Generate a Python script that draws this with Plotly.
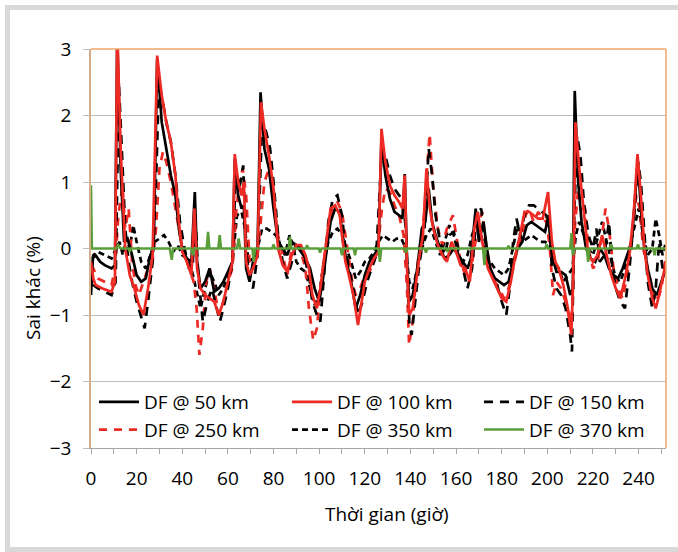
import plotly.graph_objects as go

# ---- data: (hour, difference %) ----
df50 = [(0,-0.7),(0.8,-0.15),(2,-0.1),(4,-0.2),(6,-0.25),(9,-0.3),(10.5,-0.25),(11.5,3.2),(13,1.2),(14.5,0.1),
        (16,0.15),(18,-0.1),(20,-0.4),(22,-0.5),(24,-0.45),(26,-0.1),(27.5,0.0),(29,2.85),(31,1.9),(33,1.5),
        (35,1.1),(37,0.8),(38.5,0.3),(40,0.0),(42,-0.15),(44,-0.2),(45.5,0.85),(46.5,-0.2),(48,-0.6),(50,-0.5),
        (52,-0.3),(54,-0.65),(56,-0.6),(58,-0.5),(60,-0.35),(62,-0.2),(63,1.35),(64.5,0.8),(66,0.6),(67,0.65),
        (68,-0.3),(69.5,-0.5),(71,-0.2),(73,0.0),(74.3,2.35),(76,1.5),(78,1.2),(80,0.6),(82,0.1),(84,0.0),
        (86,-0.1),(88,0.1),(90,0.05),(92,-0.05),(94,-0.15),(96,-0.3),(98,-0.6),(100,-0.8),(101.5,-0.5),(103,-0.1),
        (105,0.4),(107,0.6),(109,0.55),(110.5,0.1),(112,-0.2),(114,-0.5),(116,-0.9),(118,-0.7),(120,-0.4),(122,-0.2),
        (124,-0.1),(126,0.0),(127.3,1.65),(129,1.1),(131,0.75),(133,0.55),(135,0.5),(136.5,0.45),(137.5,1.12),(138.5,-0.2),
        (139.5,-0.8),(141,-0.7),(143,-0.3),(145,0.3),(146.5,0.4),(148,0.9),(149.5,0.4),(151,0.2),(153,0.0),(155,-0.15),
        (157,-0.1),(159,0.0),(161,-0.1),(163,-0.2),(165,-0.3),(166.5,-0.15),(168.6,0.6),(170,0.1),(172,0.4),(173.5,0.0),
        (175,-0.3),(177,-0.45),(179,-0.5),(181,-0.55),(183,-0.5),(185,-0.2),(187,0.0),(189,0.1),(191,0.35),(193,0.4),
        (195,0.35),(197,0.3),(199,0.25),(200.5,0.5),(202,-0.1),(204,-0.35),(206,-0.35),(208,-0.4),(210,-0.7),(211.2,-0.6),
        (212,2.37),(213.5,1.0),(215,0.4),(217,0.0),(219,-0.15),(221,-0.2),(223,0.0),(225,-0.1),(227,-0.3),(229,-0.4),
        (231,-0.45),(233,-0.3),(235,-0.1),(237,0.1),(238.5,0.8),(239.7,1.3),(241,0.6),(242.5,0.0),(244,-0.3),(246,-0.6),
        (248,-0.7),(250,-0.5),(252,-0.3)]

df100 = [(0,-0.2),(1,-0.45),(2,-0.55),(5,-0.6),(9,-0.65),(10.5,-0.5),(11.5,3.3),(13,1.5),(15,0.0),(17,-0.4),
         (19,-0.6),(21,-0.85),(23,-1.0),(25,-0.6),(27,-0.1),(28,1.2),(29,2.9),(31,2.3),(33,1.9),(35,1.6),
         (37,1.1),(38.5,0.4),(40,-0.05),(42,-0.2),(44,-0.4),(45.3,0.6),(46.5,-0.3),(48,-0.6),(50,-0.7),(52,-0.75),
         (54,-0.8),(56,-1.0),(58,-0.8),(60,-0.5),(62,-0.2),(63,1.42),(64.5,1.0),(66,0.8),(67,1.0),(68,-0.2),
         (69.5,-0.4),(71,-0.3),(73,-0.1),(74.5,2.2),(76,1.8),(78,1.4),(80,0.9),(82,0.0),(84,-0.25),(86,-0.35),
         (88,-0.1),(90,0.05),(92,0.05),(94,-0.1),(95.5,-0.3),(97,-0.7),(99,-0.9),(100.5,-0.6),(102,-0.2),(103.5,0.2),
         (105,0.6),(107,0.65),(109,0.5),(110,0.2),(111.5,-0.2),(113,-0.4),(115,-0.7),(117,-1.15),(118.5,-0.8),(120,-0.5),
         (122,-0.3),(124,-0.15),(126,-0.05),(127.3,1.8),(129,1.3),(131,0.95),(133,0.8),(135,0.7),(136.5,0.6),(137.5,1.1),
         (138.5,-0.3),(139.5,-1.0),(141,-0.9),(142.5,-0.5),(144,-0.1),(145.5,0.2),(147,1.2),(148.5,0.6),(150,0.3),(152,0.05),
         (154,-0.1),(156,-0.2),(158,0.1),(160,-0.05),(162,-0.25),(164,-0.3),(166,-0.5),(168,0.3),(169.5,0.55),(171,0.2),
         (172.5,-0.1),(174,-0.3),(176,-0.45),(178,-0.6),(180,-0.75),(182,-0.8),(184,-0.5),(186,-0.1),(188,0.2),(190,0.55),
         (192,0.55),(194,0.5),(196,0.45),(198,0.45),(200.3,0.85),(202,0.1),(203.5,-0.2),(205,-0.3),(207,-0.55),(209,-0.9),
         (210.5,-1.3),(211.3,-0.5),(212.3,1.9),(214,1.2),(216,0.5),(218,-0.1),(220,-0.2),(222,-0.1),(224,0.2),(226,-0.1),
         (228,-0.4),(230,-0.6),(232,-0.75),(234,-0.45),(236,-0.1),(238,0.6),(239.5,1.42),(241,0.8),(242.5,0.0),(244,-0.4),
         (246,-0.75),(247.5,-0.9),(249,-0.7),(250.5,-0.45),(252,-0.2)]

df150 = [(0,-0.3),(1,-0.55),(3,-0.6),(6,-0.65),(9,-0.7),(10.8,-0.5),(12.2,2.5),(13.5,1.5),(15,0.3),(16.5,-0.2),
         (18,-0.5),(20,-0.8),(22,-1.05),(23.5,-1.2),(25,-0.8),(27,-0.2),(28.5,1.0),(29.8,2.5),(31.5,2.2),(33,1.9),
         (35,1.6),(37,1.1),(39,0.4),(41,0.0),(43,-0.3),(44.5,-0.3),(45.7,0.5),(47,-0.4),(49,-1.1),(51,-0.8),
         (53,-0.6),(55,-0.9),(56.5,-1.1),(58,-0.9),(60,-0.6),(62,-0.2),(63.5,1.2),(65,0.9),(66.7,1.25),(68,0.0),
         (69.5,-0.5),(71,-0.6),(73,-0.1),(75,1.9),(76.8,1.75),(78.5,1.5),(80,1.0),(82,0.2),(84,-0.2),(86,-0.45),
         (88,-0.2),(90,0.1),(92,0.0),(94,-0.2),(95.5,-0.4),(97,-0.8),(99,-1.0),(100.5,-1.1),(102,-0.4),(104,0.4),
         (106,0.75),(108,0.8),(110,0.5),(111.5,0.0),(113,-0.3),(115,-0.6),(117,-1.0),(119,-0.8),(121,-0.5),(123,-0.3),
         (125,-0.1),(127.5,1.5),(129,1.4),(131,1.1),(133,0.9),(135,0.8),(136.5,0.75),(138,0.3),(139.5,-1.1),(140.5,-1.3),
         (142,-0.8),(144,-0.2),(146,0.2),(148,1.5),(149.5,1.1),(151,0.5),(153,0.1),(155,-0.1),(157,0.2),(159,0.25),
         (161,0.0),(163,-0.3),(165,-0.6),(167,-0.3),(169,0.5),(171,0.6),(172.5,0.2),(174,-0.2),(176,-0.4),(178,-0.55),
         (180,-0.8),(182,-1.0),(183.5,-0.6),(185,0.1),(186.5,0.45),(188,0.2),(190,0.5),(192,0.65),(194,0.65),(196,0.6),
         (198,0.55),(199.5,0.5),(201,0.3),(202,-0.3),(204,-0.6),(206,-0.7),(208,-0.9),(210,-1.3),(210.8,-1.55),(211.8,0.5),
         (213,1.7),(214.5,1.4),(216,0.7),(218,0.2),(220,0.0),(221.5,0.3),(223,-0.2),(225,-0.1),(227,0.4),(228.5,-0.3),
         (230,-0.6),(232,-0.8),(234,-0.9),(236,-0.3),(238,0.5),(239.8,1.3),(241,1.0),(242.5,0.2),(244,-0.5),(246,-0.9),
         (247.5,-0.6),(249,0.1),(250.5,-0.3),(252,-0.2)]

df250 = [(0,-0.25),(1,-0.3),(3,-0.45),(6,-0.5),(9,-0.55),(10.5,-0.3),(12,0.5),(13.8,0.95),(15,0.3),(16.5,0.6),
         (18,-0.2),(19.5,-0.55),(21,-0.7),(23,-0.5),(25,-0.3),(27,-0.2),(28.5,0.3),(30,1.2),(31.5,1.45),(33,1.3),
         (35,1.0),(37,0.6),(39,0.2),(41,-0.1),(43,-0.3),(45,-0.5),(46.3,-0.9),(47.5,-1.6),(49,-1.2),(50.5,-0.5),
         (52,-0.3),(54,-0.6),(56,-1.0),(58,-0.8),(60,-0.5),(62,-0.3),(63.5,0.5),(65,1.0),(66.5,1.2),(68,0.8),
         (69.5,-0.2),(71,-0.3),(73,-0.1),(74.8,0.5),(76,1.0),(78,1.2),(80,0.7),(82,0.2),(84,-0.1),(86,-0.4),
         (88,0.0),(90,0.05),(92,-0.05),(94,-0.3),(95.5,-0.9),(97.4,-1.38),(99,-1.2),(100.5,-0.6),(102,-0.2),(104,0.3),
         (106,0.6),(108,0.7),(110,0.55),(111.5,0.2),(113,-0.1),(114.5,-0.5),(116,-0.7),(118,-0.6),(120,-0.4),(122,-0.35),
         (124,-0.2),(126,0.1),(127.5,0.6),(129,0.9),(131,0.85),(133,0.65),(135,0.5),(137,0.2),(138.5,-0.6),(139.4,-1.45),
         (141,-1.1),(142.5,-0.4),(144,0.0),(146,0.5),(147.5,1.3),(148.4,1.72),(150,0.9),(152,0.3),(154,0.05),(156,0.3),
         (158.6,0.5),(160,0.2),(162,-0.2),(164,-0.4),(166,-0.45),(168,0.0),(170,0.4),(171.5,0.55),(173,0.1),(175,-0.3),
         (177,-0.5),(179,-0.6),(181,-0.75),(183,-0.6),(185,-0.3),(187,0.0),(189,0.2),(190.5,0.5),(192,0.6),(194,0.4),
         (196,0.55),(198,0.45),(199.5,0.4),(201,0.05),(202.5,-0.7),(204,-0.5),(206,-0.6),(208,-0.8),(210,-1.1),(211,-0.9),
         (212,0.3),(213.5,0.9),(215,0.6),(216.5,0.6),(218,0.0),(220,-0.3),(222,-0.2),(224,0.2),(225.5,0.6),(227,0.3),
         (229,-0.3),(231,-0.6),(233,-0.75),(235,-0.4),(237,0.2),(239,0.8),(240.5,0.6),(242,0.0),(244,-0.3),(246,-0.6),
         (248,-0.8),(250,-0.6),(252,-0.1)]

df350 = [(0,-0.3),(1,-0.1),(3,-0.05),(6,-0.1),(9,-0.15),(11,0.0),(12.5,0.1),(14,-0.1),(15.5,0.15),(17,0.0),
         (18.5,0.35),(20,0.1),(22,-0.2),(24,-0.3),(26,-0.1),(28,0.1),(30,0.15),(32,0.2),(34,0.1),(36,-0.05),
         (38,0.05),(40,-0.1),(42,-0.15),(44,-0.3),(46,-0.6),(48,-0.9),(50,-0.6),(52,-0.35),(54,-0.5),(56,-0.7),
         (58,-0.6),(60,-0.4),(62,-0.2),(64,0.5),(66,0.55),(67.5,0.3),(69,-0.2),(71,-0.15),(73,0.0),(75,0.3),
         (77,0.3),(79,0.25),(81,0.2),(83,0.05),(85,-0.1),(87,0.2),(88.5,0.05),(90,-0.2),(92,-0.3),(94,-0.35),
         (96,-0.6),(98,-0.85),(100,-0.7),(102,-0.2),(104,0.1),(106,0.25),(108,0.3),(110,0.2),(112,0.0),(114,-0.2),
         (116,-0.45),(118,-0.35),(120,-0.2),(122,-0.15),(124,-0.05),(126,0.1),(128,0.2),(130,0.15),(132,0.1),(134,0.15),
         (136,0.15),(138,0.0),(139.5,-0.5),(141,-0.6),(143,-0.3),(145,0.0),(147,0.2),(149,0.3),(151,0.1),(153,-0.1),
         (155,0.1),(157,0.35),(159,0.2),(161,-0.1),(163,-0.2),(165,-0.1),(167,0.2),(169,0.4),(171,0.2),(173,-0.1),
         (175,-0.2),(177,-0.3),(179,-0.35),(181,-0.4),(183,-0.3),(185,0.0),(187,0.35),(189,0.1),(191,0.15),(193,0.2),
         (195,0.15),(197,0.1),(199,0.1),(201,0.05),(203,-0.2),(205,-0.3),(207,-0.5),(209,-0.4),(211,-0.3),(212.5,0.2),
         (214,0.4),(216,0.2),(218,0.0),(220,-0.1),(222,0.15),(224,0.4),(226,0.1),(228,-0.2),(230,-0.45),(232,-0.5),
         (234,-0.3),(236,0.0),(238,0.3),(240,0.6),(242,0.2),(244,-0.1),(246,0.0),(247.5,0.45),(249,0.2),(250.5,-0.1),
         (252,0.1)]

df370 = [(0,0.95),(0.4,0.0),(11,0.0),(12,0.05),(13,0.0),(16.5,0.0),(17,-0.05),(17.5,0.0),(34.5,0.0),(35.4,-0.17),
         (36,0.0),(44,0.0),(44.7,-0.1),(45.4,0.0),(50.7,0.0),(51.3,0.25),(51.9,0.0),(55.8,0.0),(56.4,0.2),(57,0.0),
         (64,0.0),(64.7,0.15),(65.4,0.0),(70.7,0.0),(71.3,-0.2),(71.9,0.0),(79.4,0.0),(80,0.06),(80.6,0.0),(86.6,0.0),
         (87.2,0.18),(87.8,0.0),(94.1,0.0),(94.7,0.05),(95.3,0.0),(99.8,0.0),(100.4,-0.06),(101,0.0),(109.4,0.0),(110,-0.1),
         (110.6,0.0),(115.1,0.0),(115.7,-0.1),(116.3,0.0),(126,0.0),(126.6,-0.2),(127.2,0.0),(137.4,0.0),(138,-0.06),(138.6,0.0),
         (146.2,0.0),(146.8,-0.06),(147.4,0.0),(155.7,0.0),(156.3,-0.05),(156.9,0.0),(171.8,0.0),(172.4,-0.25),(173,0.0),(182.4,0.0),
         (183,0.04),(183.6,0.0),(199.1,0.0),(199.7,0.06),(200.3,0.0),(210,0.0),(210.6,0.23),(211.2,-0.1),(211.8,0.0),(217.3,0.0),
         (217.9,-0.2),(218.5,0.0),(227.4,0.0),(228,0.06),(228.6,0.0),(239.1,0.0),(239.7,0.06),(240.3,0.0),(246.4,0.0),(247,-0.1),
         (247.6,0.0),(252,0.0)]

names = ["DF @ 50 km", "DF @ 100 km", "DF @ 150 km", "DF @ 250 km", "DF @ 350 km", "DF @ 370 km"]
x_ticks = [0, 20, 40, 60, 80, 100, 120, 140, 160, 180, 200, 220, 240]
y_ticks = [-3, -2, -1, 0, 1, 2, 3]

FONT = "Open Sans"
styles = {
    "DF @ 50 km":  dict(color="#000000", dash="solid", width=2.7, legend="legend", rank=1),
    "DF @ 100 km": dict(color="#EE2A24", dash="solid", width=2.7, legend="legend2", rank=1),
    "DF @ 150 km": dict(color="#000000", dash="9px,7px", width=2.7, legend="legend3", rank=1),
    "DF @ 250 km": dict(color="#EE2A24", dash="8px,7px", width=2.7, legend="legend", rank=2),
    "DF @ 350 km": dict(color="#000000", dash="6px,4px", width=2.7, legend="legend2", rank=2),
    "DF @ 370 km": dict(color="#5A9E3A", dash="solid", width=2.5, legend="legend3", rank=2),
}
series = {
    "DF @ 50 km": df50, "DF @ 100 km": df100, "DF @ 150 km": df150,
    "DF @ 250 km": df250, "DF @ 350 km": df350, "DF @ 370 km": df370,
}
draw_order = ["DF @ 350 km", "DF @ 250 km", "DF @ 150 km", "DF @ 50 km", "DF @ 100 km", "DF @ 370 km"]

fig = go.Figure()
for nm in draw_order:
    st = styles[nm]
    pts = series[nm]
    fig.add_trace(go.Scatter(
        x=[p[0] for p in pts], y=[p[1] for p in pts], mode="lines", name=nm,
        line=dict(color=st["color"], dash=st["dash"], width=st["width"]),
        legend=st["legend"], legendrank=st["rank"],
    ))

# plot area in pixels: x 91..666, y 49..448
L, R, T, B = 91, 666, 49, 448
W, H = 678, 552
pw, ph = R - L, B - T
def px(xp): return (xp - L) / pw
def py(yp): return (B - yp) / ph

leg_common = dict(orientation="v", xanchor="left", yanchor="top", bgcolor="rgba(0,0,0,0)",
                  font=dict(family=FONT, size=19, color="#000000"), tracegroupgap=0,
                  itemwidth=40, traceorder="normal")
frame = dict(color="#D9D9D9", width=5)
fig.update_layout(
    width=W, height=H,
    margin=dict(l=L, r=W - R, t=T, b=H - B),
    paper_bgcolor="white", plot_bgcolor="white",
    font=dict(family=FONT, size=19, color="#000000"),
    showlegend=True,
    legend=dict(x=px(94), y=py(383), **leg_common),
    legend2=dict(x=px(287), y=py(383), **leg_common),
    legend3=dict(x=px(479), y=py(383), **leg_common),
    xaxis=dict(range=[0, 252], tickvals=x_ticks, showgrid=False, zeroline=False,
               showline=True, linecolor="#A6A6A6", linewidth=1,
               ticks="outside", ticklen=5, tickcolor="#A6A6A6",
               minor=dict(dtick=10, tick0=0, ticks="outside", ticklen=5, tickcolor="#A6A6A6", showgrid=False),
               tickfont=dict(family=FONT, size=19), ticklabelstandoff=8),
    yaxis=dict(range=[-3, 3], tickvals=y_ticks, showgrid=True, gridcolor="#BEBEBE", gridwidth=1,
               zeroline=False, showline=True, linecolor="#D2B08E", linewidth=1.5,
               ticks="outside", ticklen=6, tickcolor="#BEBEBE",
               tickfont=dict(family=FONT, size=19), ticklabelstandoff=8),
    annotations=[
        dict(text="Thời gian (giờ)", xref="paper", yref="paper", x=px(387), y=py(514),
             xanchor="center", yanchor="middle", showarrow=False, font=dict(family=FONT, size=19)),
        dict(text="Sai khác (%)", xref="paper", yref="paper", x=px(33), y=py(288), textangle=-90,
             xanchor="center", yanchor="middle", showarrow=False, font=dict(family=FONT, size=19)),
    ],
    shapes=[
        dict(type="rect", xref="paper", yref="paper", x0=px(668), x1=px(690), y0=py(560), y1=py(-10),
             line=dict(width=0), fillcolor="white", layer="below"),
        dict(type="line", xref="paper", yref="paper", x0=px(7.5), x1=px(7.5), y0=py(549.5), y1=py(5),
             line=frame, layer="below"),
        dict(type="line", xref="paper", yref="paper", x0=px(5), x1=px(700), y0=py(7.5), y1=py(7.5),
             line=frame, layer="below"),
        dict(type="line", xref="paper", yref="paper", x0=px(5), x1=px(700), y0=py(549.5), y1=py(549.5),
             line=frame, layer="below"),
        dict(type="line", xref="paper", yref="paper", x0=0, x1=1, y0=1, y1=1,
             line=dict(color="#F0A468", width=1.5)),
        dict(type="line", xref="paper", yref="paper", x0=1, x1=1, y0=0, y1=1,
             line=dict(color="#F0A468", width=1.5)),
    ],
)
fig.write_html("out.html")
